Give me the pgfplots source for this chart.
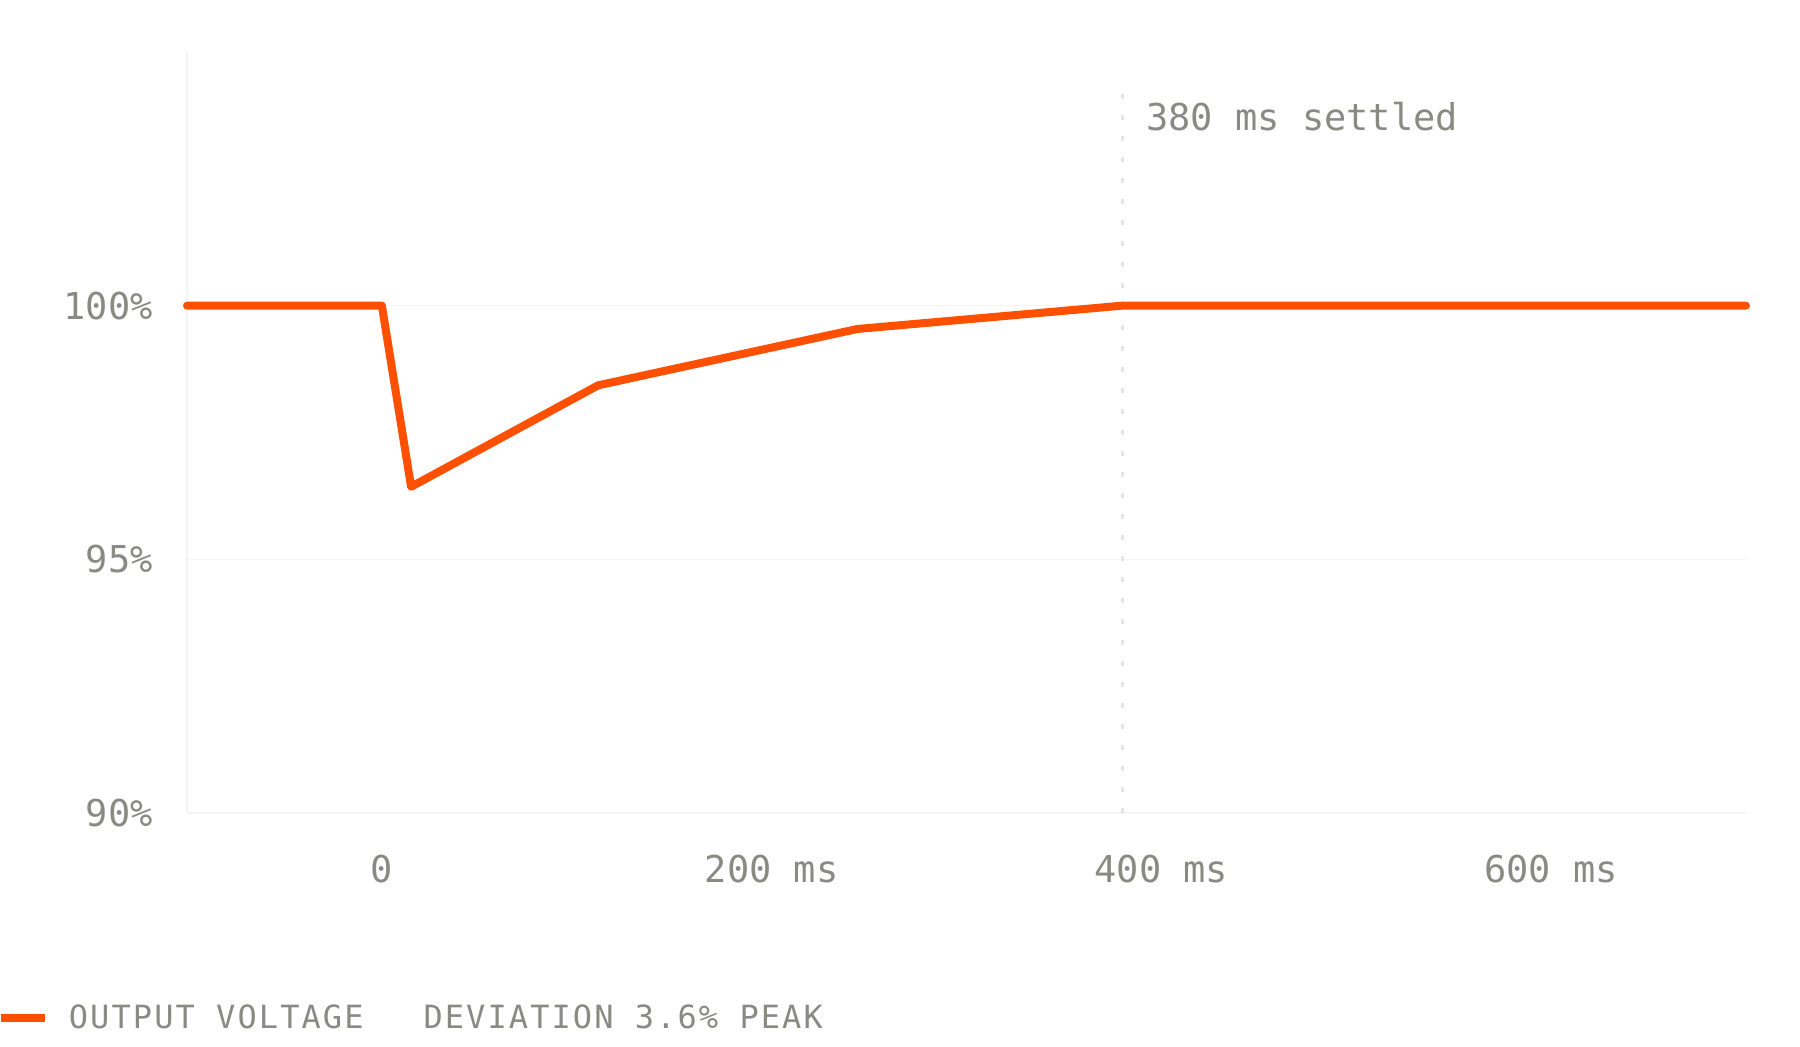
\documentclass[border=0pt]{standalone}
\usepackage{fontspec}
\setmainfont{DejaVu Sans}
\newfontfamily\plexmono{DejaVu Sans Mono}
\newfontfamily\legendfont[LetterSpace=6.5]{DejaVu Sans Mono}
\usepackage{pgfplots}
\pgfplotsset{compat=1.18}
\definecolor{voltorange}{HTML}{FF4F00}
\definecolor{labelgray}{HTML}{8A8A85}
\definecolor{gridgray}{HTML}{F4F4F4}

\begin{document}
\begin{tikzpicture}
\useasboundingbox (0,0) rectangle (900pt,523.5pt);
\begin{axis}[
  at={(93.5pt,117pt)}, anchor=south west,
  scale only axis, width=779.5pt, height=380.5pt,
  xmin=-100, xmax=700, ymin=90, ymax=105,
  axis lines*=left,
  axis line style={draw=gridgray, line width=0.8pt, -},
  ymajorgrids, grid style={draw=gridgray, line width=0.8pt},
  major tick length=0pt,
  xtick={0,200,400,600}, xticklabels={0,200 ms,400 ms,600 ms},
  ytick={90,95,100}, yticklabels={90\%,95\%,100\%},
  tick label style={font=\plexmono\fontsize{18.5pt}{22pt}\selectfont, text=labelgray},
  xticklabel style={anchor=north, inner sep=0pt, yshift=-21pt},
  yticklabel style={anchor=east, inner sep=0pt, xshift=-17pt},
  clip=false,
  legend style={at={(-0.1222,-0.2690)}, anchor=west, draw=none, fill=none,
    inner sep=0pt, font=\legendfont\fontsize{16pt}{19pt}\selectfont, text=labelgray,
    /tikz/every odd column/.style={column sep=8pt}},
  legend image code/.code={\draw[line width=4pt, line cap=butt] (0pt,0pt) -- (22pt,0pt);},
]
% settling marker
\addplot[forget plot, draw=black!10, line width=1.2pt, dash pattern=on 2.5pt off 8pt]
  coordinates {(380,90) (380,104.3)};
% output voltage, percent of nominal
\addplot[voltorange, line width=4pt, line cap=round, line join=round]
  coordinates {(-100,100) (0,100) (15,96.43) (111,98.43) (244,99.54) (380,100) (700,100)};
\addlegendentry{OUTPUT VOLTAGE\hspace{30pt}DEVIATION 3.6\% PEAK}
\node[anchor=west, inner sep=0pt, text=labelgray, font=\plexmono\fontsize{18.5pt}{22pt}\selectfont]
  at (axis cs:392,103.72) {380 ms settled};
\end{axis}
\end{tikzpicture}
\end{document}
